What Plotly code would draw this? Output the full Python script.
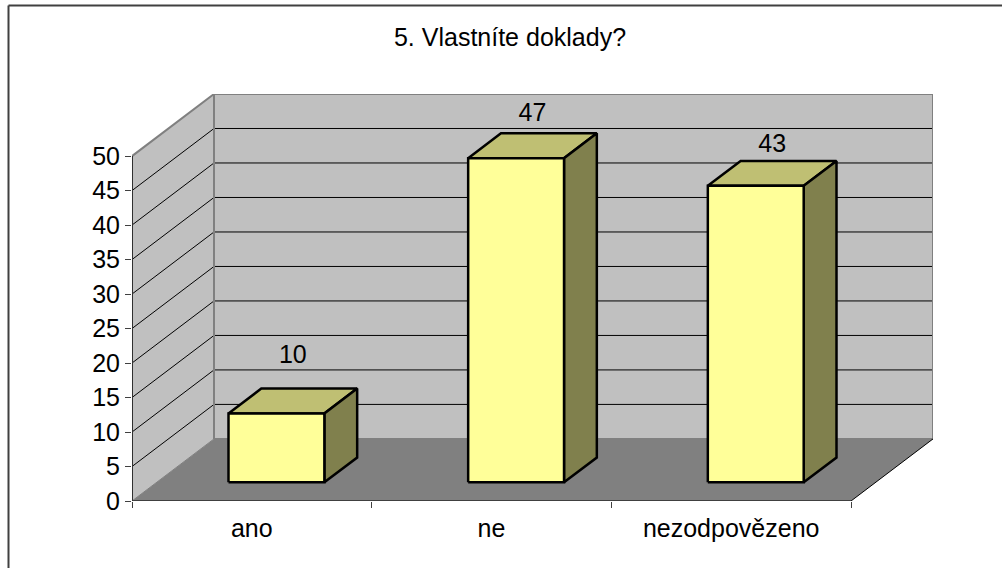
import plotly.graph_objects as go

TITLE = "5. Vlastníte doklady?"
categories = ["ano", "ne", "nezodpovězeno"]
values = [10, 47, 43]
label_lift = [10.9, 9.0, 8.5]
y_ticks = list(range(0, 55, 5))
y_max = 50

W, H = 1002, 568
L, R, T, B = 132, 69, 94, 67
DX = 82 / 239.67   # depth shift in category units
DY = 9.0           # depth shift in value units
BAR_W = 0.4
D0, D1 = 0.3, 0.7
n = len(categories)

FONT = "Liberation Sans, Arial, sans-serif"
WALL, FLOOR, EDGE = "#C0C0C0", "#808080", "#808080"
FRONT, TOP, SIDE = "#FFFF99", "#BFBF73", "#80804D"


def proj(x, v, d):
    return x + d * DX, v + d * DY


def poly(points, fill, line_color, width):
    xs, ys = zip(*(proj(*p) for p in points))
    return go.Scatter(x=list(xs) + [xs[0]], y=list(ys) + [ys[0]], mode="lines",
                      fill="toself", fillcolor=fill,
                      line=dict(color=line_color, width=width),
                      hoverinfo="skip", showlegend=False, cliponaxis=False)


def seg(points, color, width):
    xs, ys = zip(*(proj(*p) for p in points))
    return go.Scatter(x=list(xs), y=list(ys), mode="lines",
                      line=dict(color=color, width=width),
                      hoverinfo="skip", showlegend=False, cliponaxis=False)


fig = go.Figure()
# side wall, back wall, floor
fig.add_trace(poly([(0, 0, 0), (0, y_max, 0), (0, y_max, 1), (0, 0, 1)], WALL, WALL, 0))
fig.add_trace(poly([(0, 0, 1), (0, y_max, 1), (n, y_max, 1), (n, 0, 1)], WALL, WALL, 0))
fig.add_trace(poly([(0, 0, 0), (n, 0, 0), (n, 0, 1), (0, 0, 1)], FLOOR, FLOOR, 0))
# gridlines
for t in y_ticks[1:-1]:
    fig.add_trace(seg([(0, t, 0), (0, t, 1), (n, t, 1)], "#000000", 1))
# wall outlines
fig.add_trace(seg([(0, y_max, 0), (0, y_max, 1), (n, y_max, 1), (n, 0, 1), (0, 0, 1)], EDGE, 2))
fig.add_trace(seg([(0, y_max, 1), (0, 0, 1)], EDGE, 2))
# floor front edges and axis line
fig.add_trace(seg([(0, 0, 1), (0, 0, 0)], FLOOR, 1))
fig.add_trace(seg([(0, 0, 0), (n, 0, 0), (n, 0, 1)], "#000000", 1))
fig.add_trace(seg([(0, y_max, 0), (0, 0, 0)], "#303030", 2))
# bars
for i, v in enumerate(values):
    a = i + (1 - BAR_W) / 2
    b = a + BAR_W
    fig.add_trace(poly([(a, v, D0), (a, v, D1), (b, v, D1), (b, v, D0)], TOP, "#000000", 2.5))
    fig.add_trace(poly([(b, 0, D0), (b, v, D0), (b, v, D1), (b, 0, D1)], SIDE, "#000000", 2.5))
    fig.add_trace(poly([(a, 0, D0), (a, v, D0), (b, v, D0), (b, 0, D0)], FRONT, "#000000", 2.5))
# value labels
fig.add_trace(go.Scatter(
    x=[i + 0.5 + 0.5 * DX for i in range(n)],
    y=[v + lift for v, lift in zip(values, label_lift)],
    text=[str(v) for v in values], mode="text", textposition="middle center",
    textfont=dict(family=FONT, size=25, color="#000000"),
    hoverinfo="skip", showlegend=False, cliponaxis=False))

fig.update_layout(
    width=W, height=H,
    margin=dict(l=L, r=R, t=T, b=B, pad=0),
    paper_bgcolor="#FFFFFF", plot_bgcolor="rgba(0,0,0,0)",
    showlegend=False,
    font=dict(family=FONT, color="#000000"),
    title=dict(text=TITLE, x=510 / W, xanchor="center", xref="container",
               y=1 - 37 / H, yanchor="middle", font=dict(family=FONT, size=25, color="#000000")),
    xaxis=dict(range=[0, n + DX], showgrid=False, zeroline=False, showline=False,
               tickmode="array", tickvals=[i + 0.5 for i in range(n)], ticktext=categories,
               ticks="", tickfont=dict(family=FONT, size=25), ticklabelstandoff=10,
               minor=dict(tickmode="array", tickvals=list(range(n + 1)), ticks="outside",
                          ticklen=6, tickwidth=1, tickcolor="#404040", showgrid=False)),
    yaxis=dict(range=[0, y_max + DY], showgrid=False, zeroline=False, showline=False,
               tickmode="array", tickvals=y_ticks, ticktext=[str(t) for t in y_ticks],
               ticks="outside", ticklen=6, tickwidth=1, tickcolor="#404040",
               tickfont=dict(family=FONT, size=25)),
    shapes=[
        dict(type="line", xref="paper", yref="paper",
             x0=(8.5 - L) / (W - L - R), x1=(W - L) / (W - L - R),
             y0=(H - B - 5.5) / (H - T - B), y1=(H - B - 5.5) / (H - T - B),
             line=dict(color="#404040", width=2)),
        dict(type="line", xref="paper", yref="paper",
             x0=(8.5 - L) / (W - L - R), x1=(8.5 - L) / (W - L - R),
             y0=(H - B - 5.5) / (H - T - B), y1=(-B) / (H - T - B),
             line=dict(color="#404040", width=2)),
    ],
)
fig.write_html("out.html", config=dict(displayModeBar=False),
               post_script="document.body.style.margin='0';document.body.style.overflow='hidden';")
